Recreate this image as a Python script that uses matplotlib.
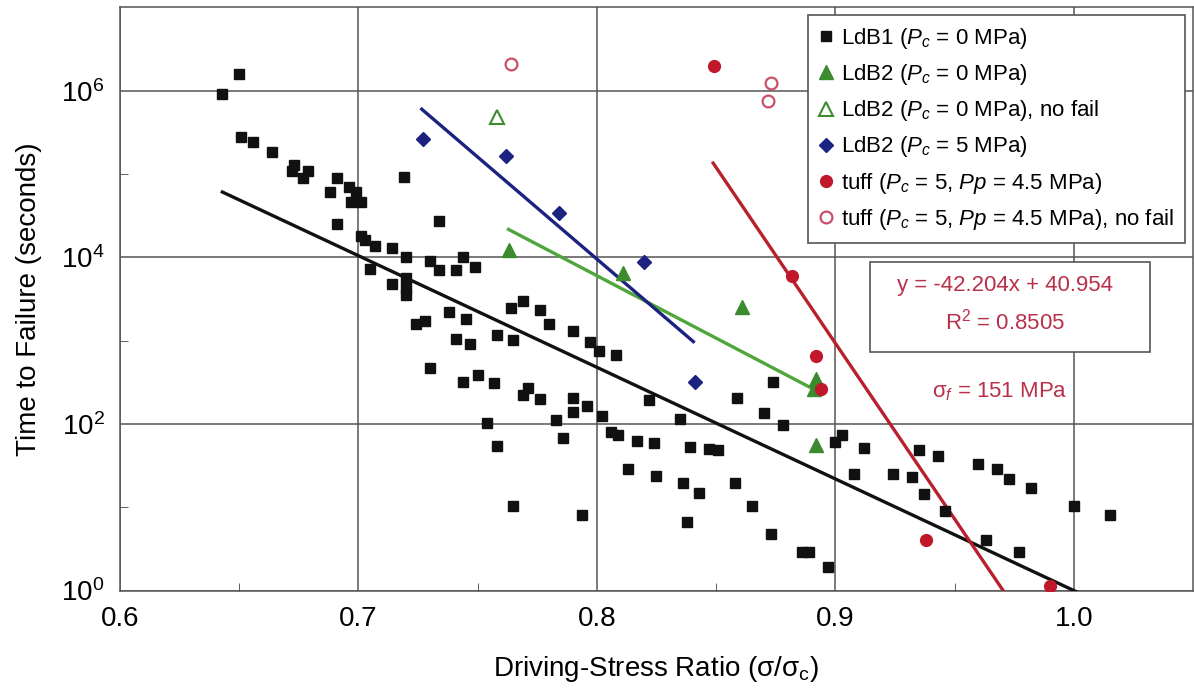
import numpy as np
import matplotlib.pyplot as plt
from matplotlib.ticker import FixedLocator, NullFormatter
from matplotlib.patches import Rectangle

plt.rcParams["font.family"] = ["Liberation Sans", "DejaVu Sans"]
plt.rcParams["mathtext.fontset"] = "custom"
plt.rcParams["mathtext.rm"] = "Liberation Sans"
plt.rcParams["mathtext.it"] = "Liberation Sans:italic"
plt.rcParams["mathtext.default"] = "regular"

# LdB1, Pc = 0 MPa
ldb1_ratio = [0.643, 0.650, 0.651, 0.656, 0.664, 0.673, 0.672, 0.679, 0.677, 0.691,
              0.688, 0.696, 0.699, 0.697, 0.701, 0.691, 0.719, 0.734, 0.701, 0.703,
              0.707, 0.714, 0.720, 0.705, 0.730, 0.734, 0.741, 0.744, 0.749, 0.714,
              0.720, 0.720, 0.720, 0.724, 0.728, 0.738, 0.745, 0.741, 0.747, 0.730,
              0.744, 0.750, 0.757, 0.764, 0.769, 0.776, 0.780, 0.758, 0.765, 0.790,
              0.797, 0.801, 0.808, 0.771, 0.769, 0.776, 0.790, 0.796, 0.790, 0.802,
              0.754, 0.783, 0.786, 0.758, 0.822, 0.835, 0.859, 0.870, 0.874, 0.878,
              0.806, 0.809, 0.817, 0.824, 0.839, 0.847, 0.851, 0.813, 0.825, 0.836,
              0.843, 0.858, 0.865, 0.765, 0.794, 0.838, 0.873, 0.886, 0.889, 0.897,
              0.900, 0.903, 0.912, 0.908, 0.924, 0.932, 0.935, 0.943, 0.937, 0.946,
              0.960, 0.968, 0.973, 0.982, 1.000, 1.015, 0.963, 0.977]
ldb1_time = [9.1e5, 1.6e6, 2.8e5, 2.45e5, 1.85e5, 1.3e5, 1.1e5, 1.1e5, 8.9e4, 8.9e4,
             6.1e4, 7.0e4, 6.1e4, 4.6e4, 4.6e4, 2.5e4, 9.1e4, 2.75e4, 1.8e4, 1.6e4,
             1.35e4, 1.3e4, 1.0e4, 7.3e3, 9.1e3, 7.0e3, 7.0e3, 1.0e4, 7.7e3, 4.8e3,
             5.6e3, 4.3e3, 3.5e3, 1.6e3, 1.7e3, 2.2e3, 1.8e3, 1.05e3, 910, 470,
             315, 390, 310, 2.45e3, 2.95e3, 2.3e3, 1.6e3, 1.17e3, 1.03e3, 1.3e3,
             970, 760, 680, 270, 220, 200, 205, 165, 140, 125,
             103, 110, 68, 54, 195, 115, 205, 135, 315, 97,
             79, 74, 62, 59, 53, 50, 48, 29, 24, 19.4,
             15, 19.4, 10.3, 10.3, 8.1, 6.7, 4.8, 2.9, 2.9, 1.9,
             61, 74, 51, 25, 25, 23, 48, 41, 14.4, 9.1,
             33, 28.5, 22, 17, 10.3, 8.1, 4.0, 2.9]

# LdB2, Pc = 0 MPa
ldb2_ratio = [0.763, 0.811, 0.861, 0.892, 0.891, 0.892]
ldb2_time = [1.22e4, 6.4e3, 2.5e3, 350, 260, 56]
ldb2_nofail_ratio = [0.758]
ldb2_nofail_time = [4.8e5]

# LdB2, Pc = 5 MPa
ldb2p5_ratio = [0.727, 0.762, 0.784, 0.820, 0.841]
ldb2p5_time = [2.63e5, 1.64e5, 3.37e4, 8.85e3, 320]

# tuff, Pc = 5, Pp = 4.5 MPa
tuff_ratio = [0.849, 0.882, 0.892, 0.894, 0.938, 0.990]
tuff_time = [1.98e6, 5.97e3, 650, 260, 4.0, 1.13]
tuff_nofail_ratio = [0.764, 0.873, 0.872]
tuff_nofail_time = [2.1e6, 1.23e6, 7.5e5]

# log10(time) = slope * ratio + intercept, with the x span of each fit
fits = {
    "ldb1":   (-13.40, 13.40, 0.643, 1.015, "#111111"),
    "ldb2":   (-15.00, 15.78, 0.763, 0.8915, "#4fa63a"),
    "ldb2p5": (-24.50, 23.58, 0.7266, 0.8405, "#1c2280"),
    "tuff":   (-42.204, 40.954, 0.8488, 0.990, "#b8202e"),
}

fig = plt.figure(figsize=(11.94, 6.92), dpi=100)
ax = fig.add_axes([119.8 / 1194, 101.5 / 692, 1073.2 / 1194, 583.1 / 692])

for slope, intercept, x0, x1, col in fits.values():
    xs = np.array([x0, x1])
    ax.plot(xs, 10 ** (slope * xs + intercept), color=col, lw=2.4, zorder=3)

ax.plot(ldb1_ratio, ldb1_time, "s", color="#111111", ms=6.5, ls="none",
        label=r"LdB1 ($\mathit{P_c}$ = 0 MPa)", zorder=4)
ax.plot(ldb2_ratio, ldb2_time, "^", color="#3d8b2f", ms=10, ls="none",
        label=r"LdB2 ($\mathit{P_c}$ = 0 MPa)", zorder=4)
ax.plot(ldb2_nofail_ratio, ldb2_nofail_time, "^", mfc="white", mec="#3d8b2f", mew=1.5,
        ms=10, ls="none", label=r"LdB2 ($\mathit{P_c}$ = 0 MPa), no fail", zorder=4)
ax.plot(ldb2p5_ratio, ldb2p5_time, "D", color="#1c2280", ms=7.5, ls="none",
        label=r"LdB2 ($\mathit{P_c}$ = 5 MPa)", zorder=4)
ax.plot(tuff_ratio, tuff_time, "o", color="#c0182a", ms=8.5, ls="none",
        label=r"tuff ($\mathit{P_c}$ = 5, $\mathit{Pp}$ = 4.5 MPa)", zorder=4)
ax.plot(tuff_nofail_ratio, tuff_nofail_time, "o", mfc="white", mec="#c8506a", mew=1.6,
        ms=8.5, ls="none", label=r"tuff ($\mathit{P_c}$ = 5, $\mathit{Pp}$ = 4.5 MPa), no fail",
        zorder=4)

ax.set_yscale("log")
ax.set_xlim(0.6, 1.05)
ax.set_ylim(1, 1e7)

ax.xaxis.set_major_locator(FixedLocator([0.6, 0.7, 0.8, 0.9, 1.0]))
ax.set_xticklabels(["0.6", "0.7", "0.8", "0.9", "1.0"])
ax.xaxis.set_minor_locator(FixedLocator([0.65, 0.75, 0.85, 0.95]))
ax.yaxis.set_major_locator(FixedLocator([1, 1e2, 1e4, 1e6]))
ax.set_yticklabels([r"$10^0$", r"$10^2$", r"$10^4$", r"$10^6$"])
ax.yaxis.set_minor_locator(FixedLocator([10, 1e3, 1e5]))
ax.yaxis.set_minor_formatter(NullFormatter())

ax.tick_params(which="both", direction="in", color="#444444", labelsize=20)
ax.tick_params(which="major", length=0, pad=11)
ax.tick_params(which="minor", length=6)
ax.grid(which="major", color="#555555", lw=1.1)
ax.set_axisbelow(True)
for sp in ax.spines.values():
    sp.set_color("#555555")
    sp.set_linewidth(1.1)

ax.set_xlabel(r"Driving-Stress Ratio ($\sigma$/$\sigma_c$)", fontsize=20, labelpad=16)
ax.set_ylabel("Time to Failure (seconds)", fontsize=20, labelpad=14)

leg = ax.legend(loc="upper right", bbox_to_anchor=(1185 / 1194, 1 - 15 / 692),
                bbox_transform=fig.transFigure, fontsize=16, numpoints=1,
                handlelength=0.7, handletextpad=0.3, labelspacing=0.5,
                borderpad=0.5, borderaxespad=0, fancybox=False, framealpha=1)
leg.get_frame().set_edgecolor("#555555")
leg.get_frame().set_linewidth(1.2)

# equation box for the tuff fit
slope, intercept = fits["tuff"][0], fits["tuff"][1]
fig.patches.append(Rectangle((870 / 1194, 1 - 352 / 692), 280 / 1194, 90 / 692,
                             transform=fig.transFigure, fill=True, facecolor="white",
                             edgecolor="#555555", lw=1.2, zorder=5))
txt_col = "#b8304a"
fig.text(1005 / 1194, 1 - 286 / 692, f"y = {slope:.3f}x + {intercept:.3f}",
         ha="center", va="center", fontsize=16, color=txt_col, zorder=6)
fig.text(1005 / 1194, 1 - 322 / 692, r"R$^2$ = 0.8505",
         ha="center", va="center", fontsize=16, color=txt_col, zorder=6)
fig.text(1000 / 1194, 1 - 392 / 692, r"$\sigma_\mathit{f}$ = 151 MPa",
         ha="center", va="center", fontsize=16, color=txt_col, zorder=6)

fig.savefig("out.png", dpi=100)
